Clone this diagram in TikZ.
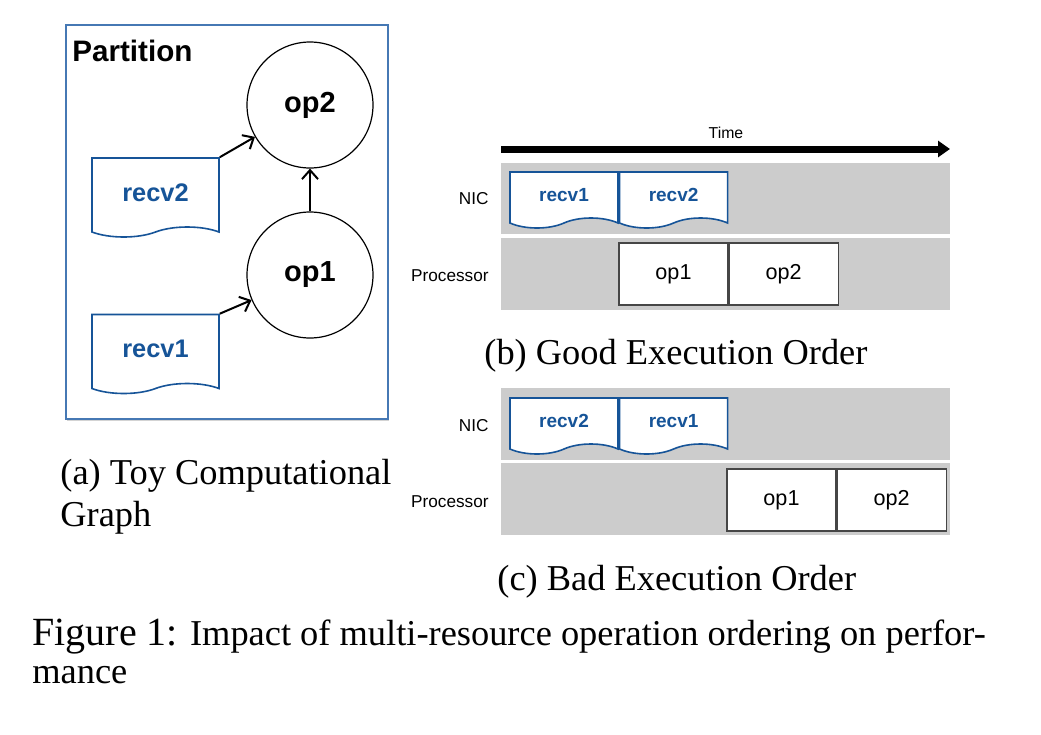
\documentclass[tikz,border=0pt]{standalone}
\usepackage{fontspec}
\setmainfont{Liberation Serif}
\setsansfont{Liberation Sans}
\usetikzlibrary{positioning,arrows.meta,shapes.symbols,shadows}
\definecolor{recvblue}{RGB}{22,84,152}
\definecolor{partblue}{RGB}{70,120,180}
\definecolor{bandgray}{RGB}{204,204,204}
\definecolor{boxgray}{RGB}{70,70,70}

\begin{document}
\begin{tikzpicture}[x=0.5pt,y=-0.5pt,
  partbox/.style={draw=partblue,line width=0.6pt,fill=white,minimum width=161pt,minimum height=197pt,
    drop shadow={shadow xshift=0.6pt,shadow yshift=-1pt,opacity=0.35}},
  opnode/.style={circle,draw,line width=0.6pt,minimum size=63pt,inner sep=0pt,
    font=\sffamily\bfseries\fontsize{14.5}{16}\selectfont},
  recv/.style={tape,tape bend top=none,tape bend bottom=in and out,tape bend height=5pt,
    draw=recvblue,line width=0.8pt,fill=white,inner sep=0pt,text=recvblue},
  bigrecv/.style={recv,minimum width=63.5pt,minimum height=39.5pt,
    font=\sffamily\bfseries\fontsize{12.7}{14}\selectfont},
  smallrecv/.style={recv,minimum width=54pt,minimum height=28pt,
    font=\sffamily\bfseries\fontsize{9.5}{11}\selectfont},
  slot/.style={draw=boxgray,line width=0.6pt,fill=white,minimum width=54.5pt,minimum height=31pt,
    inner sep=0pt,font=\sffamily\fontsize{10.8}{12}\selectfont},
  lane/.style={anchor=east,inner sep=0pt,font=\sffamily\fontsize{8.6}{10}\selectfont},
  band/.style={fill=bandgray},
  flow/.style={line width=1pt,-{Straight Barb[length=4.5pt,width=8pt]}},
  caption/.style={anchor=base west,inner sep=0pt,font=\fontsize{18.2}{21}\selectfont}]
\useasboundingbox (0,0) rectangle (1041,735);

% (a) the partition
\node[partbox] (part) at (227,222) {};
\node[anchor=base west,inner sep=0pt,font=\sffamily\bfseries\fontsize{14.8}{17}\selectfont] (parttitle) at (72,61) {Partition};
\node[opnode] (op2) at (310,105) {op2};
\node[opnode] (op1) at (310,275) {op1};
\node[bigrecv] (recv2) at (155.5,192.5) {recv2};
\node[bigrecv] (recv1) at (155.5,349) {recv1};
\draw[flow] (recv2.north east) -- (op2);
\draw[flow] (recv1.north east) -- (op1);
\draw[flow] (op1) -- (op2);

% (b) good order
\coordinate (t0) at (501,149);
\coordinate (t1) at (950,149);
\draw[line width=3.5pt,-{Triangle[length=6pt,width=8pt]}] (t0) -- (t1);
\node[inner sep=0pt,font=\sffamily\fontsize{7.9}{9}\selectfont] (time) at (726,133) {Time};
\fill[band] (501,163) rectangle (950,234);
\fill[band] (501,238) rectangle (950,310);
\node[lane] (nicb) at (489,199) {NIC};
\node[lane] (procb) at (489,276) {Processor};
\node[smallrecv] (b1) at (564,195) {recv1};
\node[smallrecv,right=0pt of b1] (b2) {recv2};
\node[slot] (bop1) at (673.5,274) {op1};
\node[slot,right=0pt of bop1] (bop2) {op2};

% (c) bad order
\fill[band] (501,388) rectangle (950,460);
\fill[band] (501,463) rectangle (950,535);
\node[lane] (nicc) at (489,426) {NIC};
\node[lane] (procc) at (489,502) {Processor};
\node[smallrecv] (c1) at (564,421) {recv2};
\node[smallrecv,right=0pt of c1] (c2) {recv1};
\node[slot] (cop1) at (781.5,500) {op1};
\node[slot,right=0pt of cop1] (cop2) {op2};

% captions
\node[caption] (capa) at (60,484) {(a) Toy Computational};
\node[caption] (capa2) at (60,526) {Graph};
\node[caption] (capb) at (484,364) {(b) Good Execution Order};
\node[caption] (capc) at (497,590) {(c) Bad Execution Order};
\node[caption] (fig) at (32,645) {{\fontsize{20}{24}\selectfont Figure 1:} Impact of multi-resource operation ordering on perfor-};
\node[caption] (fig2) at (32,683) {mance};
\end{tikzpicture}
\end{document}
